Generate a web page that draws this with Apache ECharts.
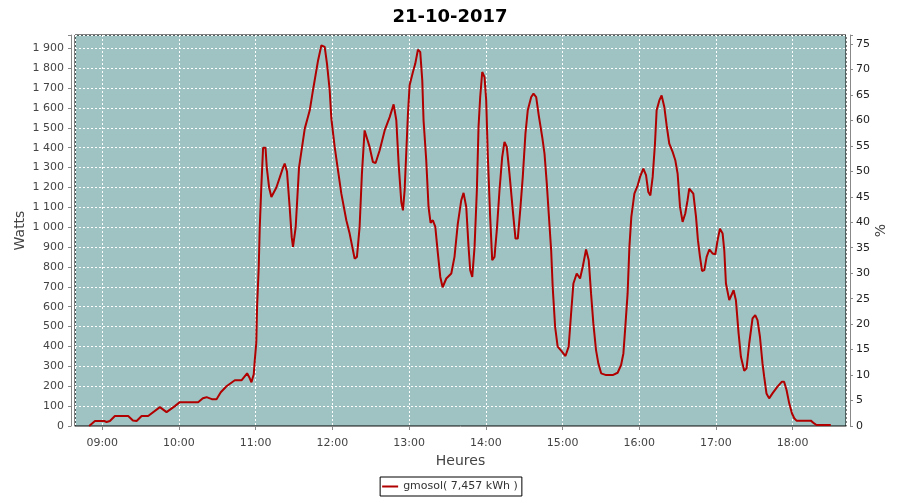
<!DOCTYPE html>
<html>
<head>
<meta charset="utf-8">
<script src="https://cdn.jsdelivr.net/npm/echarts@6/dist/echarts.min.js"></script>
<style>
html,body{margin:0;padding:0;background:#fff;}
#chart{width:900px;height:500px;}
</style>
</head>
<body>
<div id="chart"></div>
<script>
// Time of day in minutes since midnight
var minutes = [
529.8,534.3,541.6,543.4,546.0,549.9,560.3,564.0,566.9,570.8,575.9,585.1,590.3,596.8,600.7,615.0,618.7,621.6,625.7,629.4,
632.7,637.2,643.7,648.9,653.3,655.4,656.7,658.5,659.3,660.5,661.1,662.4,663.2,664.4,665.8,667.7,668.7,670.5,672.3,676.2,
681.4,682.7,684.5,686.6,688.2,689.2,691.3,693.9,698.4,702.3,704.8,708.8,711.4,714.0,715.8,717.9,719.2,721.8,724.4,727.0,
730.9,733.5,736.1,737.4,739.2,741.3,743.1,745.2,746.6,749.1,751.7,753.8,757.0,760.9,764.8,767.9,770.0,771.8,773.9,775.2,
776.5,779.1,780.4,783.0,784.8,786.9,788.7,790.3,791.3,793.4,795.2,796.8,798.6,800.5,802.5,804.4,806.2,809.1,813.0,815.5,
818.1,820.8,822.6,824.7,826.5,827.8,829.4,831.2,833.0,834.3,835.6,837.2,839.0,840.3,841.6,843.4,845.0,846.8,848.6,850.7,
852.8,854.6,856.4,858.5,861.1,863.2,865.0,866.9,868.9,871.0,872.8,875.5,877.3,879.4,881.4,884.1,885.9,887.7,889.2,891.1,
892.3,894.2,896.2,898.9,902.3,904.8,906.7,908.5,911.1,913.7,915.8,918.4,920.5,922.3,924.1,926.2,928.0,930.2,934.1,939.2,
943.1,945.8,947.6,949.1,950.9,952.3,953.8,956.2,958.8,960.6,963.2,965.3,967.1,968.7,970.5,972.3,973.6,975.7,977.5,979.6,
981.4,983.5,986.1,988.2,990.0,991.9,993.9,996.0,997.8,999.1,1000.5,1002.3,1004.4,1005.9,1007.5,1009.1,1010.9,1012.7,1014.8,1017.3,
1019.5,1021.3,1023.1,1025.2,1026.5,1027.8,1030.4,1033.8,1035.6,1037.7,1039.5,1042.1,1043.9,1046.0,1048.6,1050.7,1052.5,1054.4,1056.4,1057.7,
1059.5,1061.6,1064.2,1068.1,1071.6,1073.3,1075.2,1077.3,1079.4,1081.2,1083.0,1094.2,1096.8,1098.6,1109.8
];
// Power in watts
var watts = [
0,25,25,20,25,50,50,28,25,50,50,95,70,100,120,120,140,145,135,135,
170,200,230,230,265,240,220,260,330,420,600,800,1000,1200,1400,1400,1300,1200,1152,1200,
1300,1320,1280,1100,950,901,1000,1300,1496,1588,1688,1839,1915,1907,1822,1688,1546,1404,1286,1169,
1035,968,884,842,851,1002,1270,1487,1490,1404,1328,1323,1387,1487,1554,1618,1538,1320,1127,1085,
1186,1571,1714,1781,1822,1893,1882,1739,1538,1337,1102,1022,1035,1002,868,750,698,742,767,851,
1018,1136,1173,1102,901,784,750,901,1186,1504,1655,1781,1755,1638,1353,1052,834,851,985,1186,
1353,1429,1404,1270,1085,943,943,1085,1253,1471,1588,1655,1672,1655,1563,1454,1370,1219,1069,884,
700,499,399,379,352,399,566,717,767,742,801,888,834,667,516,382,315,265,256,256,
268,307,365,499,667,901,1052,1169,1211,1253,1295,1262,1177,1160,1253,1420,1588,1638,1663,1605,
1513,1420,1379,1337,1270,1102,1027,1069,1136,1194,1203,1169,1052,935,851,780,784,851,888,868,
864,935,993,968,884,717,633,683,633,466,348,278,290,415,541,558,533,449,315,248,
164,139,164,198,223,223,181,114,64,39,27,27,13,5,5
];
var chartTitle = '21-10-2017';
var seriesName = 'gmosol( 7,457 kWh )';
var yLeftName = 'Watts';
var yRightName = '%';
var xName = 'Heures';

function toDate(m){
  var h = Math.floor(m/60);
  var mm = m - h*60;
  var s = Math.round((mm - Math.floor(mm))*60);
  return new Date(2017, 9, 21, h, Math.floor(mm), s).getTime();
}
var data = minutes.map(function(m,i){ return [toDate(m), watts[i]]; });

var FONT = 'DejaVu Sans';
var chart = echarts.init(document.getElementById('chart'), null, {renderer:'canvas'});
chart.setOption({
  animation:false,
  backgroundColor:'#ffffff',
  title:{
    text: chartTitle, left:'center', top:3,
    textStyle:{fontFamily:FONT, fontSize:18, fontWeight:'bold', color:'#000'}
  },
  legend:{
    data:[seriesName], left:'center', top:477,
    borderColor:'#000', borderWidth:1, padding:[4,4,4,2],
    itemWidth:16, itemHeight:12, itemGap:0,
    textStyle:{fontFamily:FONT, fontSize:11, color:'#333'},
    icon:'path://M0,0L16,0L16,2L0,2Z'
  },
  grid:{
    left:75, right:54, top:35, bottom:74,
    show:true, backgroundColor:'#9fc3c2', borderColor:'#000', borderWidth:1
  },
  xAxis:{
    type:'time',
    min: toDate(518.7), max: toDate(1121.7),
    minInterval:3600000, maxInterval:3600000,
    offset:4,
    name:xName, nameLocation:'middle', nameGap:24, nameMoveOverlap:false,
    nameTextStyle:{fontFamily:FONT, fontSize:14, color:'#444'},
    axisLine:{show:true, lineStyle:{color:'#888', width:1}},
    axisTick:{show:true, length:4, lineStyle:{color:'#888'}},
    axisLabel:{fontFamily:FONT, fontSize:11, color:'#444', margin:8,
      showMinLabel:false, showMaxLabel:false,
      formatter:function(v){ var d=new Date(v); if(d.getMinutes()!==0) return ''; var h=d.getHours(); return (h<10?'0':'')+h+':00'; }},
    splitLine:{show:true, lineStyle:{color:'#ffffff', type:[2,2], width:1}}
  },
  yAxis:[{
    type:'value', min:0, max:1967, interval:100,
    offset:4, position:'left',
    name:yLeftName, nameLocation:'middle', nameGap:44, nameRotate:90, nameMoveOverlap:false,
    nameTextStyle:{fontFamily:FONT, fontSize:14, color:'#444'},
    axisLine:{show:true, lineStyle:{color:'#888', width:1}},
    axisTick:{show:true, length:3, lineStyle:{color:'#888'}},
    axisLabel:{fontFamily:FONT, fontSize:11, color:'#444', margin:7,
      formatter:function(v){ if(v%100!==0) return ''; if(v>=1000){ var s=String(v); return s.slice(0,s.length-3)+' '+s.slice(s.length-3);} return String(v); }},
    splitLine:{show:true, lineStyle:{color:'#ffffff', type:[2,2], width:1}}
  },{
    type:'value', min:0, max:76.77, interval:5,
    offset:4, position:'right',
    name:yRightName, nameLocation:'middle', nameGap:24, nameRotate:90, nameMoveOverlap:false,
    nameTextStyle:{fontFamily:FONT, fontSize:14, color:'#444'},
    axisLine:{show:true, lineStyle:{color:'#888', width:1}},
    axisTick:{show:true, length:3, lineStyle:{color:'#888'}},
    axisLabel:{fontFamily:FONT, fontSize:11, color:'#222', margin:6,
      formatter:function(v){ return (v%5===0)? String(v) : ''; }},
    splitLine:{show:false}
  }],
  series:[{
    name:seriesName, type:'line', yAxisIndex:0,
    data:data, symbol:'none', smooth:false,
    lineStyle:{color:'#b00000', width:2},
    itemStyle:{color:'#b00000'}
  }]
});
</script>
</body>
</html>
